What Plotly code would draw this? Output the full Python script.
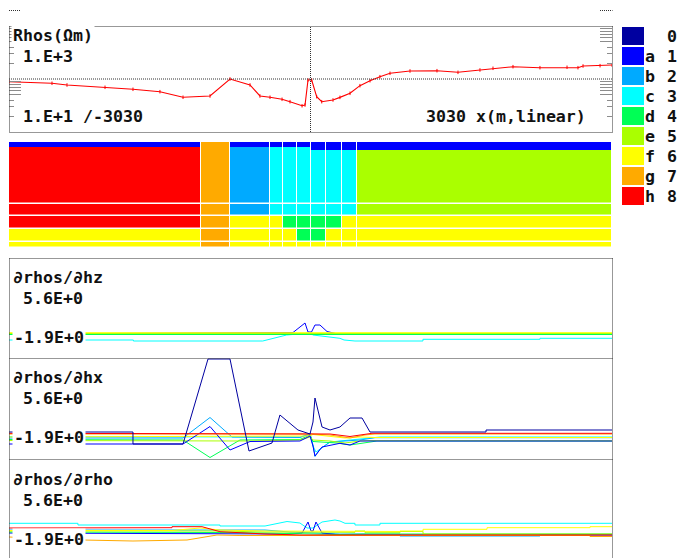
import math
import plotly.graph_objects as go

W, H = 681, 558
FONT = "DejaVu Sans Mono"
FS = 16.6
TXT = "#111111"
DOT = "#303030"

# ---------------- data ----------------
COLORS = ['#0000A0', '#0000FF', '#00AAFF', '#00FFFF', '#00FF55',
          '#AAFF00', '#FFFF00', '#FFAA00', '#FF0000']
LEGEND_LETTERS = ['', 'a', 'b', 'c', 'd', 'e', 'f', 'g', 'h']
LEGEND_DIGITS = ['0', '1', '2', '3', '4', '5', '6', '7', '8']

# apparent resistivity profile (ohm m) vs x (m)
rho_x = [-3030, -2598, -2447, -2065, -1784, -1513, -1281, -1010, -809, -608,
         -508, -407, -286, -206, -85, -55, -25, 12, 62, 113,
         226, 296, 397, 497, 598, 698, 799, 1000, 1271, 1482,
         1703, 1834, 2035, 2306, 2578, 2688, 2739, 2910, 3030]
rho_v = [88.9, 83.0, 77.1, 69.7, 63.9, 57.6, 45.2, 47.8, 100, 77.1,
         47.8, 45.2, 41.4, 37.3, 31.3, 32.3, 95.7, 95.7, 46.4, 37.3,
         40.2, 45.0, 53.7, 74.8, 92.9, 110.5, 128, 141.6, 143.5, 133.7,
         147.9, 159.2, 170.7, 163.4, 166.3, 163.4, 175.9, 178.2, 183.6]
rho_ticks_long = [50, 60, 70, 80, 90, 500, 600, 700, 800, 900]
rho_ticks_short = [20, 30, 40, 200, 300, 400]

# model section
model_x_edges = [-3030, -1100, -810, -410, -280, -135, 5, 155, 315, 470, 3030]
model_depth_edges = [0, 62, 74, 87, 99.5, 105.5]
model_cells = [
    [8, 7, 2, 3, 3, 3, 3, 3, 3, 5],
    [8, 7, 2, 3, 3, 3, 3, 3, 3, 5],
    [8, 7, 6, 6, 4, 4, 4, 4, 6, 6],
    [6, 7, 6, 6, 6, 4, 4, 6, 6, 6],
    [6, 7, 6, 6, 6, 6, 6, 6, 6, 6],
]
surface_depth_edges = [0, 4.5, 7.5]
surface_cells = [
    [1, 7, 1, 1, 1, 1, 1, 1, 1, 1],
    [8, 7, 2, 3, 3, 3, 1, 1, 1, 1],
]

# d rhos / d hz
hz_blue_x = [-3030, -176, -55, -25, 10, 45, 95, 166, 296, 3030]
hz_blue_y = [-2.0, -1.85, -0.9, -1.8, -1.8, -1.1, -1.1, -1.75, -2.05, -2.05]
hz_cyan_x = [-3030, -1780, -1780, -480, -240, -5, 25, 296, 337, 447, 1130, 1130, 2306, 2306, 3030]
hz_cyan_y = [-2.6, -2.6, -2.7, -2.7, -2.1, -1.9, -2.1, -2.43, -2.6, -2.7, -2.7, -2.53, -2.53, -2.43, -2.43]
hz_green_x = [-3030, 3030]
hz_green_y = [-2.05, -2.05]
hz_yg_x = [-3030, 3030]
hz_yg_y = [-1.95, -1.95]
hz_yellow_x = [-3030, 3030]
hz_yellow_y = [-1.87, -1.87]

# d rhos / d hx
hx_navy_x = [-3030, -1784, -1784, -1281, -1030, -809, -618, -387, -307, -126, -35, -5,
             25, 45, 116, 196, 296, 397, 518, 598, 1764, 1764, 3030]
hx_navy_y = [-1.8, -1.8, -3.0, -3.0, 5.5, 5.5, -3.7, -2.9, -0.1, -1.6, -1.9, -2.0,
             -0.8, 1.6, -1.3, -1.6, -1.3, -0.4, -0.4, -1.8, -1.8, -1.6, -1.6]
hx_blue_x = [-3030, -1281, -1010, -809, -608, -106, -5, 25, 45, 116, 296, 397, 497, 3030]
hx_blue_y = [-3.0, -3.0, -1.25, -3.6, -2.75, -2.7, -2.2, -3.2, -4.2, -3.3, -2.93, -3.1, -2.7, -2.7]
hx_lblue_x = [-3030, -1281, -1010, -789, -106, -5, 25, 45, 95, 196, 497, 648, 3030]
hx_lblue_y = [-2.4, -2.4, -0.35, -2.3, -2.35, -2.0, -3.1, -4.25, -3.5, -2.8, -2.6, -2.37, -2.37]
hx_cyan_x = [-3030, -1281, -1010, -106, -5, 25, 55, 196, 497, 698, 3030]
hx_cyan_y = [-2.27, -2.27, -2.3, -2.3, -2.0, -3.2, -3.8, -2.8, -2.5, -2.3, -2.3]
hx_green_x = [-3030, -1281, -1010, -709, -106, -5, 25, 266, 397, 528, 668, 3030]
hx_green_y = [-2.55, -2.6, -4.35, -2.6, -2.55, -2.1, -2.75, -2.9, -3.1, -2.9, -2.7, -2.7]
hx_yg_x = [-3030, -1281, -608, -106, -5, 25, 196, 347, 497, 598, 3030]
hx_yg_y = [-2.65, -2.65, -2.7, -2.6, -2.3, -2.6, -2.7, -2.9, -2.7, -2.65, -2.68]
hx_yellow_x = [-3030, -5, 25, 146, 347, 497, 648, 3030]
hx_yellow_y = [-2.3, -2.2, -2.05, -2.2, -2.4, -2.3, -2.35, -2.35]
hx_orange_x = [-3030, 25, 196, 397, 548, 648, 3030]
hx_orange_y = [-2.0, -2.0, -2.1, -2.4, -2.1, -2.0, -2.0]
hx_red_x = [-3030, 25, 196, 397, 548, 618, 3030]
hx_red_y = [-1.93, -1.93, -2.0, -2.25, -2.0, -1.93, -1.93]

# d rhos / d rho
rh_cyan_x = [-3030, -2337, -2337, -910, -910, -457, -236, -106, -35, 25, 116, 246, 296,
             347, 447, 447, 698, 698, 3030]
rh_cyan_y = [-0.83, -0.83, -1.0, -1.0, -1.1, -1.1, -0.65, -0.8, -1.3, -1.3, -0.7, -0.5, -0.6,
             -0.83, -0.83, -1.0, -1.0, -0.83, -0.83]
rh_lblue_x = [-3030, -1392, -910, -457, -206, 296, 899, 899, 2306, 2306, 3030]
rh_lblue_y = [-1.5, -1.5, -1.45, -1.5, -1.7, -1.9, -1.9, -2.1, -2.1, -1.95, -1.95]
rh_blue_x = [-3030, -206, -85, -25, 5, 25, 55, 116, 296, 3030]
rh_blue_y = [-1.8, -1.9, -1.8, -0.7, -1.6, -1.6, -0.7, -1.8, -2.0, -2.0]
rh_green_x = [-3030, -2337, -910, -457, -106, 296, 548, 3030]
rh_green_y = [-1.7, -1.7, -1.75, -1.8, -1.9, -1.95, -1.9, -1.9]
rh_yg_x = [-3030, -910, -457, 296, 447, 447, 548, 548, 899, 899, 1131, 1131, 3030]
rh_yg_y = [-1.6, -1.6, -1.7, -1.73, -1.73, -1.6, -1.6, -1.77, -1.77, -1.65, -1.65, -1.9, -1.9]
rh_yellow_x = [-3030, -1392, -1110, -910, -457, 296, 899, 899, 1131, 1131, 1774, 1774, 2809, 2809, 3030]
rh_yellow_y = [-1.55, -1.55, -1.3, -1.5, -1.6, -1.65, -1.65, -1.6, -1.6, -1.43, -1.43, -1.27, -1.27, -1.17, -1.17]
rh_orange_x = [-3030, -2286, -1784, -1241, -940, -709, 2809, 2809, 3030]
rh_orange_y = [-2.2, -2.5, -2.6, -2.5, -2.0, -2.05, -2.05, -2.15, -2.15]
rh_red_x = [-3030, -2337, -2337, -1392, -1392, -1090, -910, -457, -106, 3030]
rh_red_y = [-1.3, -1.3, -1.27, -1.27, -1.17, -1.17, -1.67, -1.9, -2.0, -2.0]

X_RANGE = [-3030, 3030]

# ---------------- layout helpers ----------------
def dx(a, b):
    return [a / W, b / W]

def dy(top, bot):
    return [1 - bot / H, 1 - top / H]

def px(p):
    return p / W

def py(p):
    return 1 - p / H

PL, PR = 9, 612

fig = go.Figure()

def line(xa, ya, xs, ys, cidx, width=1.0):
    fig.add_trace(go.Scatter(x=xs, y=ys, xaxis=xa, yaxis=ya, mode='lines',
                             line=dict(color=COLORS[cidx], width=width),
                             showlegend=False, hoverinfo='skip'))

# panel 1: rho
fig.add_trace(go.Scatter(x=rho_x, y=rho_v, xaxis='x', yaxis='y', mode='lines+markers',
                         line=dict(color='#FF0000', width=1.1),
                         marker=dict(symbol='line-ns', size=2.5,
                                     line=dict(color='#FF0000', width=1)),
                         showlegend=False, hoverinfo='skip'))

# model section
def discrete_scale():
    n = len(COLORS)
    cs = []
    for i, c in enumerate(COLORS):
        cs.append([i / n, c])
        cs.append([(i + 1) / n, c])
    return cs

CS = discrete_scale()
fig.add_trace(go.Heatmap(x=model_x_edges, y=model_depth_edges, z=model_cells,
                         xaxis='x2', yaxis='y2', colorscale=CS, zmin=-0.5, zmax=8.5,
                         showscale=False, xgap=1, ygap=1.5, hoverinfo='skip'))
fig.add_trace(go.Heatmap(x=model_x_edges, y=surface_depth_edges, z=surface_cells,
                         xaxis='x2', yaxis='y2', colorscale=CS, zmin=-0.5, zmax=8.5,
                         showscale=False, xgap=1, ygap=0, hoverinfo='skip'))

# panel 2: hz
for xs, ys, c in [(hz_blue_x, hz_blue_y, 1), (hz_cyan_x, hz_cyan_y, 3),
                  (hz_green_x, hz_green_y, 4), (hz_yg_x, hz_yg_y, 5),
                  (hz_yellow_x, hz_yellow_y, 6)]:
    line('x3', 'y3', xs, ys, c)

# panel 3: hx
for xs, ys, c in [(hx_cyan_x, hx_cyan_y, 3), (hx_lblue_x, hx_lblue_y, 2),
                  (hx_green_x, hx_green_y, 4), (hx_yg_x, hx_yg_y, 5),
                  (hx_yellow_x, hx_yellow_y, 6), (hx_blue_x, hx_blue_y, 1),
                  (hx_orange_x, hx_orange_y, 7), (hx_red_x, hx_red_y, 8),
                  (hx_navy_x, hx_navy_y, 0)]:
    line('x4', 'y4', xs, ys, c)

# panel 4: rho
for xs, ys, c in [(rh_cyan_x, rh_cyan_y, 3), (rh_lblue_x, rh_lblue_y, 2),
                  (rh_blue_x, rh_blue_y, 1), (rh_green_x, rh_green_y, 4),
                  (rh_yg_x, rh_yg_y, 5), (rh_yellow_x, rh_yellow_y, 6),
                  (rh_orange_x, rh_orange_y, 7), (rh_red_x, rh_red_y, 8)]:
    line('x5', 'y5', xs, ys, c)

# legend colour boxes
fig.add_trace(go.Heatmap(x=[0], y=list(range(len(COLORS))),
                         z=[[i] for i in range(len(COLORS))],
                         xaxis='x6', yaxis='y6', colorscale=CS, zmin=-0.5, zmax=8.5,
                         showscale=False, xgap=0, ygap=2, hoverinfo='skip'))

hidden = dict(showgrid=False, zeroline=False, showticklabels=False, ticks='', showline=False)

layout = dict(
    width=W, height=H, margin=dict(l=0, r=0, t=0, b=0),
    paper_bgcolor='white', plot_bgcolor='white', showlegend=False,
    xaxis=dict(domain=dx(PL, PR), range=X_RANGE, anchor='y', **hidden),
    yaxis=dict(domain=dy(26, 132), type='log', range=[1, 3], anchor='x',
               showgrid=False, zeroline=False, showticklabels=False, showline=False,
               tickmode='array', tickvals=rho_ticks_long, ticks='inside', ticklen=12,
               tickcolor='#8c8c8c', tickwidth=1, mirror='ticks',
               minor=dict(tickmode='array', tickvals=rho_ticks_short, ticks='inside',
                          ticklen=5, tickcolor='#8c8c8c', tickwidth=1, showgrid=False)),
    xaxis2=dict(domain=dx(PL, PR), range=X_RANGE, anchor='y2', **hidden),
    yaxis2=dict(domain=dy(142, 248), range=[106, 0], anchor='x2', **hidden),
    xaxis3=dict(domain=dx(PL, PR), range=X_RANGE, anchor='y3', **hidden),
    yaxis3=dict(domain=dy(258, 358), range=[-4.4, 5.6], anchor='x3', **hidden),
    xaxis4=dict(domain=dx(PL, PR), range=X_RANGE, anchor='y4', **hidden),
    yaxis4=dict(domain=dy(358, 459), range=[-4.5, 5.6], anchor='x4', **hidden),
    xaxis5=dict(domain=dx(PL, PR), range=X_RANGE, anchor='y5', **hidden),
    yaxis5=dict(domain=dy(459, 558), range=[-4.3, 5.6], anchor='x5', **hidden),
    xaxis6=dict(domain=dx(622, 644), range=[-0.5, 0.5], anchor='y6', **hidden),
    yaxis6=dict(domain=dy(26, 206), range=[8.5, -0.5], anchor='x6', **hidden),
)
fig.update_layout(**layout)

# ---------------- frames (dotted) ----------------
shapes = []

def dotted(x0, y0, x1, y1):
    shapes.append(dict(type='line', xref='paper', yref='paper',
                       x0=px(x0), y0=py(y0), x1=px(x1), y1=py(y1),
                       line=dict(color=DOT, width=1, dash='1px,1px')))

# little marks at the very top
dotted(PL, 10.5, 21, 10.5)
dotted(600, 10.5, PR + 0.5, 10.5)
# panel 1 frame
dotted(PL + 0.5, 26.5, PR + 0.5, 26.5)
dotted(PL + 0.5, 132.5, PR + 0.5, 132.5)
dotted(PL + 0.5, 26.5, PL + 0.5, 132.5)
dotted(PR + 0.5, 26.5, PR + 0.5, 132.5)
# panel 1 grid: x = 0 and rho = 100
shapes.append(dict(type='line', xref='x', yref='y domain', x0=0, x1=0, y0=0, y1=1,
                   line=dict(color=DOT, width=1, dash='1px,1px')))
g = (math.log10(100) - 1) / (3 - 1)
shapes.append(dict(type='line', xref='x domain', yref='y domain', x0=0, x1=1, y0=g, y1=g,
                   line=dict(color=DOT, width=1, dash='1px,1px')))
# sensitivity panels frame
for yy in (258.5, 358.5, 459.5):
    dotted(PL + 0.5, yy, PR + 0.5, yy)
dotted(PL + 0.5, 258.5, PL + 0.5, 558)
dotted(PR + 0.5, 258.5, PR + 0.5, 558)
fig.update_layout(shapes=shapes)

# ---------------- texts ----------------
ann = []
TFONT = dict(family=FONT, size=FS, color=TXT, weight='bold')

def label(text, xleft, ycenter):
    ann.append(dict(text=text, xref='paper', yref='paper', x=px(xleft - 2), y=py(ycenter),
                    xanchor='left', yanchor='middle', showarrow=False,
                    bgcolor='white', borderpad=1, font=TFONT))

label('Rhos(Ωm)', 12.7, 35.8)
label('1.E+3', 23.3, 56)
label('1.E+1 /-3030', 23.3, 116.5)
label('3030 x(m,linear)', 426, 116.3)

for top, name in [(258, '∂rhos/∂hz'), (358, '∂rhos/∂hx'), (459, '∂rhos/∂rho')]:
    off = 0.8 if top == 459 else 0
    label(name, 13.3, top + 19.5 + off)
    label('5.6E+0', 22.7, top + 40.2 + off)
    label('-1.9E+0', 14, top + 79.2 + off)

for i in range(len(COLORS)):
    if LEGEND_LETTERS[i]:
        ann.append(dict(text=LEGEND_LETTERS[i], xref='paper', yref='y6', x=px(650), y=i,
                        xanchor='center', yanchor='middle', showarrow=False, font=TFONT))
    ann.append(dict(text=LEGEND_DIGITS[i], xref='paper', yref='y6', x=px(671.5), y=i,
                    xanchor='center', yanchor='middle', showarrow=False, font=TFONT))

fig.update_layout(annotations=ann)

fig.write_html("out.html")
